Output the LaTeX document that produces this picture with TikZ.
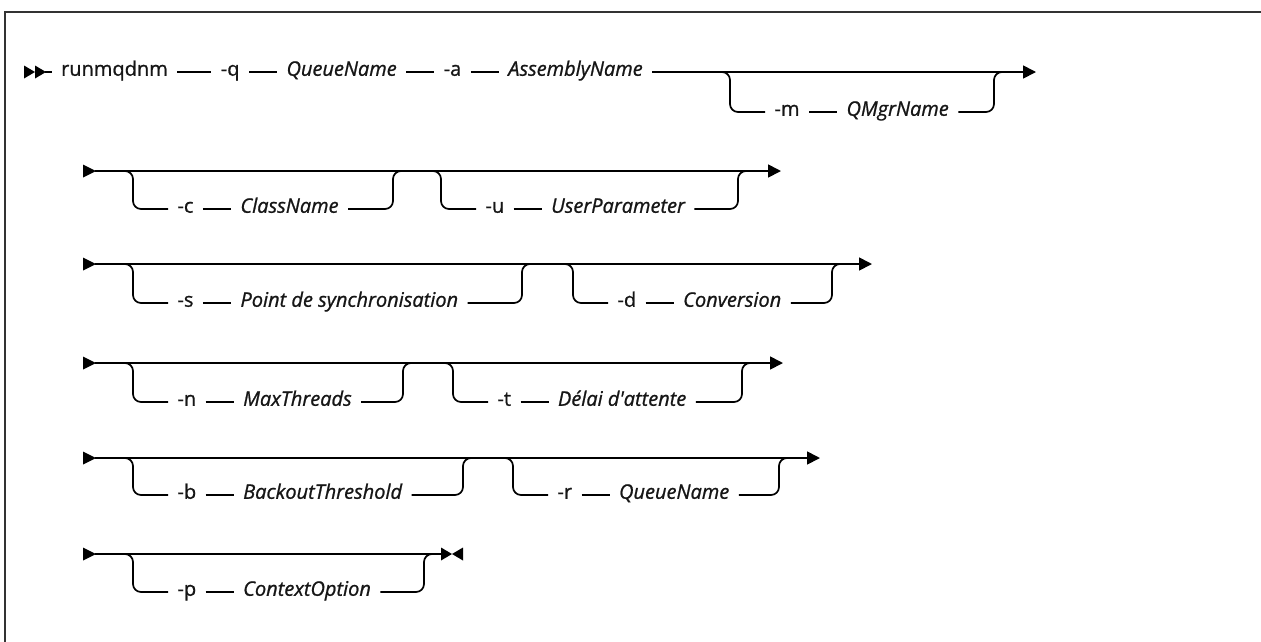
\documentclass[tikz,border=0pt]{standalone}
\usepackage{fontspec}
\setmainfont{Open Sans}[Ligatures=TeXOff,FakeBold=1.0]
\usetikzlibrary{arrows.meta,positioning}
\definecolor{ink}{HTML}{161616}
\definecolor{framec}{HTML}{333333}
\tikzset{
  ln/.style={line width=1.7pt, black},
  tipa/.style={-{Triangle[length=13pt,width=13pt]}},
  kw/.style={inner xsep=9.5pt, inner ysep=0pt, outer sep=0pt, text=ink, font=\fontsize{20}{24}\selectfont, text height=1.75ex, text depth=0.35ex},
  var/.style={kw, font=\itshape\fontsize{20}{24}\selectfont},
  tri/.style={fill=black, draw=none},
  framepath/.style={line width=2.6pt, framec}
}
% #1 name, #2 main y, #3 lower y, #4 start x, #5 join x, #6 flag, #7 value
\newcommand{\optbranch}[7]{%
  \coordinate (#1s) at (#4,#2);
  \coordinate (#1j) at (#5,#2);
  \node[kw, anchor=west] (#1f) at ([xshift=43pt]#1s |- 0,#3) {#6};
  \node[var, right=28pt of #1f] (#1v) {#7};
  \draw[ln, rounded corners=8pt] (#1s) -- ([xshift=8pt]#1s) |- (#1f.west);
  \draw[ln] (#1f.east) -- (#1v.west);
  \draw[ln, rounded corners=8pt] (#1v.east) -| ([xshift=-8pt]#1j) -- (#1j);
}
\begin{document}
\begin{tikzpicture}[x=1pt,y=-1pt]
\useasboundingbox (0,0) rectangle (1261,641);
% frame
\coordinate (fr1) at (1262,12);
\coordinate (fr2) at (5,12);
\coordinate (fr3) at (5,642);
\draw[framepath] (fr1) -- (fr2) -- (fr3);

% ---- row 1
\fill[tri] (24,65.5) -- (35,72) -- (24,78.5) -- cycle;
\fill[tri] (35,65.5) -- (46,72) -- (35,78.5) -- cycle;
\coordinate (r1start) at (45,72);
\node[kw] (cmd) at (114.5,72) {runmqdnm};
\node[kw, right=34pt of cmd] (q) {-q};
\node[var, right=28pt of q] (qn) {QueueName};
\node[kw, right=28pt of qn] (a) {-a};
\node[var, right=28pt of a] (an) {AssemblyName};
\coordinate (r1tip) at (1036,72);
\draw[ln] (r1start) -- (cmd.west);
\draw[ln] (cmd.east) -- (q.west);
\draw[ln] (q.east) -- (qn.west);
\draw[ln] (qn.east) -- (a.west);
\draw[ln] (a.east) -- (an.west);
\draw[ln,tipa] (an.east) -- (r1tip);
\optbranch{m}{72}{112}{722}{1002}{-m}{QMgrName}

% ---- row 2
\fill[tri] (83,164.5) -- (96,171) -- (83,177.5) -- cycle;
\coordinate (r2start) at (95,171);
\coordinate (r2tip) at (781,171);
\draw[ln,tipa] (r2start) -- (r2tip);
\optbranch{c}{171}{209}{125}{401}{-c}{ClassName}
\optbranch{u}{171}{209}{433}{746}{-u}{UserParameter}

% ---- row 3
\fill[tri] (83,257.5) -- (96,264) -- (83,270.5) -- cycle;
\coordinate (r3start) at (95,264);
\coordinate (r3tip) at (872,264);
\draw[ln,tipa] (r3start) -- (r3tip);
\optbranch{s}{264}{303}{125}{530}{-s}{Point de synchronisation}
\optbranch{d}{264}{303}{565}{840}{-d}{Conversion}

% ---- row 4
\fill[tri] (83,356.5) -- (96,363) -- (83,369.5) -- cycle;
\coordinate (r4start) at (95,363);
\coordinate (r4tip) at (783,363);
\draw[ln,tipa] (r4start) -- (r4tip);
\optbranch{n}{363}{402}{125}{411}{-n}{MaxThreads}
\optbranch{t}{363}{402}{445}{750}{-t}{Délai d'attente}

% ---- row 5
\fill[tri] (83,451.5) -- (96,458) -- (83,464.5) -- cycle;
\coordinate (r5start) at (95,458);
\coordinate (r5tip) at (820,458);
\draw[ln,tipa] (r5start) -- (r5tip);
\optbranch{b}{458}{495}{125}{471}{-b}{BackoutThreshold}
\optbranch{r}{458}{495}{505}{787}{-r}{QueueName}

% ---- row 6
\fill[tri] (83,547.5) -- (96,554) -- (83,560.5) -- cycle;
\coordinate (r6start) at (95,554);
\coordinate (r6end) at (442,554);
\draw[ln] (r6start) -- (r6end);
\fill[tri] (441,547.5) -- (452,554) -- (441,560.5) -- cycle;
\fill[tri] (463,547.5) -- (452,554) -- (463,560.5) -- cycle;
\optbranch{p}{554}{592}{125}{432}{-p}{ContextOption}
\end{tikzpicture}
\end{document}
